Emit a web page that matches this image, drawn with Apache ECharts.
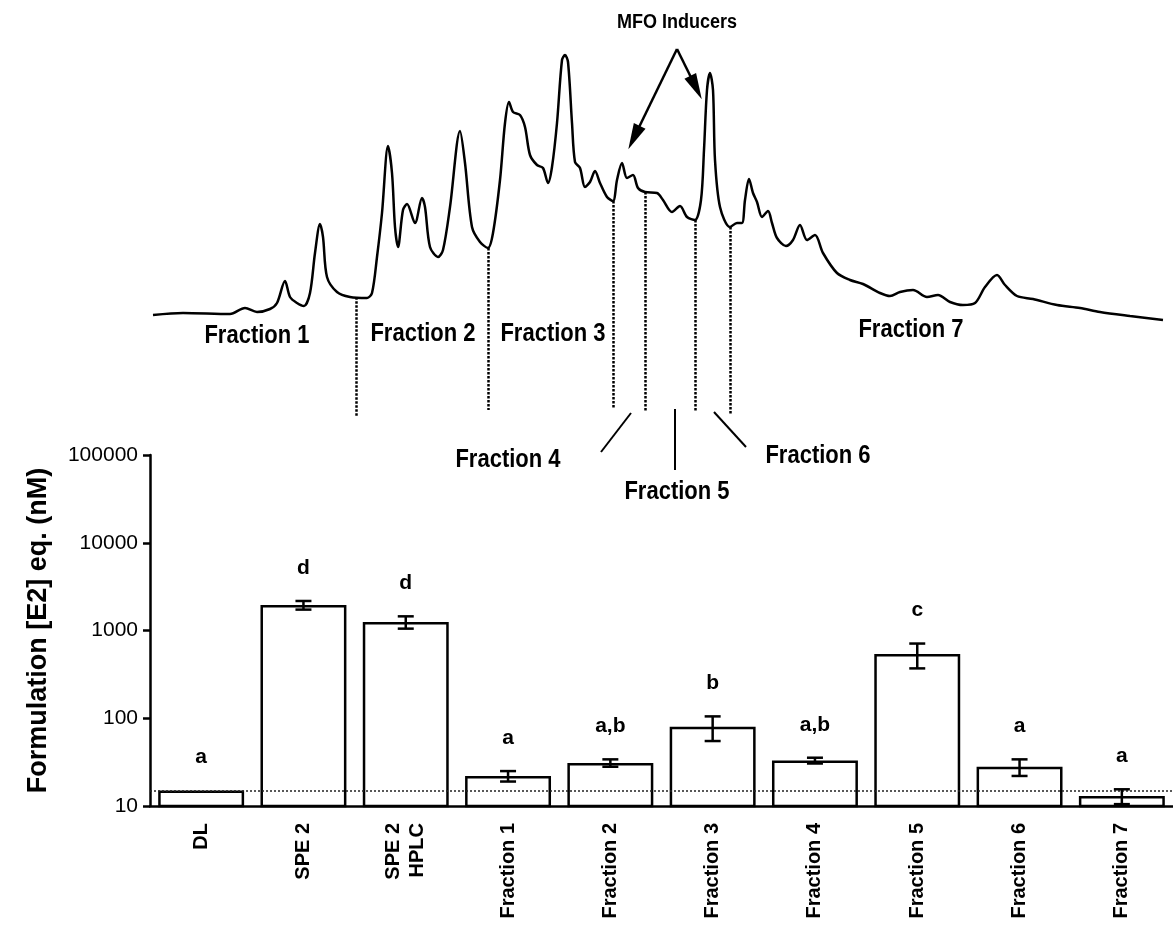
<!DOCTYPE html>
<html>
<head>
<meta charset="utf-8">
<title>Formulation [E2] eq. of HPLC fractions</title>
<script src="https://cdn.jsdelivr.net/npm/echarts@6/dist/echarts.min.js"></script>
<style>
  html, body { margin: 0; padding: 0; background: #fff; }
  #chart { width: 1173px; height: 926px; }
</style>
</head>
<body>
<div id="chart"></div>
<script>
// ---- Bar chart data: estrogenic activity per sample ----
const categories = ['DL', 'SPE 2', 'SPE 2\nHPLC', 'Fraction 1', 'Fraction 2', 'Fraction 3',
                    'Fraction 4', 'Fraction 5', 'Fraction 6', 'Fraction 7'];
const means   = [15, 1950, 1250, 22, 31, 80, 33, 540, 28, 13];
const errors  = [0, 220, 200, 3, 3, 25, 2.5, 170, 6, 2.5];
const letters = ['a', 'd', 'd', 'a', 'a,b', 'b', 'a,b', 'c', 'a', 'a'];
const detectionLimit = 15;

// ---- HPLC chromatogram: retention time (min) and detector signal ----
const chromTime = [0.3, 3.3, 8.0, 9.5, 10.7, 12.0, 12.7, 13.5, 14.0, 14.7, 15.4, 16.0, 16.5, 17.0, 17.3,
  17.7, 18.7, 20.0, 21.7, 22.2, 22.7, 23.2, 23.8, 24.2, 24.5, 24.8, 25.3, 25.7, 26.5, 27.2, 27.5, 28.0,
  28.8, 29.3, 30.0, 31.0, 31.5, 32.2, 33.0, 33.8, 34.3, 35.0, 35.5, 35.9, 36.3, 37.0, 37.5, 38.0, 38.7,
  39.3, 39.8, 40.2, 40.7, 41.2, 41.5, 41.8, 42.2, 42.5, 43.0, 43.5, 44.0, 44.5, 45.0, 45.7, 46.3, 46.7,
  47.2, 47.7, 48.3, 48.8, 49.5, 50.7, 51.3, 52.2, 53.0, 53.7, 54.5, 55.1, 55.4, 55.7, 56.0, 56.3, 56.5,
  57.0, 58.0, 58.7, 59.2, 59.5, 59.9, 60.3, 60.7, 61.2, 61.8, 62.2, 62.7, 63.6, 64.3, 65.0, 65.7, 66.5,
  67.3, 68.7, 70.0, 71.3, 73.0, 74.0, 75.0, 76.3, 77.7, 78.8, 80.0, 81.3, 82.5, 83.5, 84.7, 85.5, 86.7,
  88.3, 90.7, 93.0, 95.0, 98.0, 101.3];
const chromSignal = [2.0, 2.8, 2.4, 4.8, 3.2, 4.4, 6.8, 15.6, 9.2, 6.8, 5.6, 10.8, 26.8, 38.4, 33.2,
  17.2, 11.2, 9.2, 8.8, 10.8, 25.2, 42.8, 69.6, 58.8, 37.2, 29.2, 44.0, 46.4, 38.8, 48.8, 45.2, 29.2,
  25.2, 28.0, 45.2, 75.6, 62.8, 37.2, 31.2, 28.8, 34.8, 56.0, 78.8, 87.2, 83.2, 82.0, 77.2, 66.0, 62.0,
  60.8, 54.8, 61.2, 78.8, 104.0, 106.0, 103.2, 78.8, 63.2, 60.8, 53.2, 55.2, 59.6, 54.8, 49.2, 47.6, 56.0,
  62.8, 56.8, 58.0, 52.8, 51.2, 50.8, 48.0, 43.2, 45.6, 41.2, 40.0, 48.0, 68.0, 92.0, 98.8, 92.0, 64.0,
  45.2, 37.2, 38.8, 38.8, 48.0, 56.4, 50.8, 47.2, 41.2, 43.6, 38.8, 32.8, 29.6, 32.0, 38.0, 32.0, 34.0,
  26.8, 18.8, 16.0, 14.4, 10.8, 9.6, 11.2, 12.0, 9.2, 10.0, 7.2, 6.0, 6.8, 13.2, 18.0, 14.0, 9.6,
  8.4, 6.0, 4.8, 3.2, 1.6, 0.0];

// Fraction cut points (retention time) and how far each cut marker drops below the baseline
const cutTimes = [20.6, 33.8, 46.3, 49.5, 54.5, 58.0];
const cutDepth = [-38.4, -36, -35.2, -36.8, -36.8, -37.6];

const FONT = '"Liberation Sans", Arial, Helvetica, sans-serif';

// Signal on the trace at a given time (linear between samples)
function signalAt(t) {
  for (let i = 1; i < chromTime.length; i++) {
    if (chromTime[i] >= t) {
      const f = (t - chromTime[i - 1]) / (chromTime[i] - chromTime[i - 1]);
      return chromSignal[i - 1] + f * (chromSignal[i] - chromSignal[i - 1]);
    }
  }
  return chromSignal[chromSignal.length - 1];
}

const chromData = chromTime.map((t, i) => [t, chromSignal[i]]);

const cutLines = cutTimes.map((t, i) => [
  { coord: [t, signalAt(t)] },
  { coord: [t, cutDepth[i]] }
]);

const solid = { type: 'solid', width: 2, color: '#000' };
const leaderLines = [
  [{ coord: [48.1, -37.2], lineStyle: solid }, { coord: [45.1, -52.8] }],
  [{ coord: [52.5, -35.6], lineStyle: solid }, { coord: [52.5, -60] }],
  [{ coord: [56.4, -36.8], lineStyle: solid }, { coord: [59.6, -50.8] }]
];

// Plain triangular arrow heads pointing at the two inducer peaks
const arrowHead = { symbol: 'path://M0,0 L7,26 L-7,26 Z', symbolSize: [13, 26], symbolKeepAspect: false };
const arrowStyle = { type: 'solid', width: 2.5, color: '#000' };
const arrowLines = [
  [{ coord: [52.7, 108.4], symbol: 'none', lineStyle: arrowStyle },
   Object.assign({ coord: [48.4, 73.0] }, arrowHead)],
  [{ coord: [52.7, 108.4], symbol: 'none', lineStyle: arrowStyle },
   Object.assign({ coord: [54.6, 93.0] }, arrowHead)]
];

// Text annotations on the chromatogram, in (time, signal) space
const chromLabels = [
  { text: 'Fraction 1', at: [10.7, -6.6] },
  { text: 'Fraction 2', at: [27.3, -5.8] },
  { text: 'Fraction 3', at: [40.3, -5.8] },
  { text: 'Fraction 4', at: [35.8, -56] },
  { text: 'Fraction 5', at: [52.7, -68.8] },
  { text: 'Fraction 6', at: [66.8, -54.4] },
  { text: 'Fraction 7', at: [76.1, -4] }
];
const mfoLabel = { text: 'MFO Inducers', at: [52.7, 119.2] };

const chart = echarts.init(document.getElementById('chart'), null, { renderer: 'canvas' });

const option = {
  backgroundColor: '#ffffff',
  animation: false,
  grid: [
    { left: 150, right: 0, top: 455, bottom: 120, containLabel: false },
    { left: 150, width: 1023, top: 10, height: 510, containLabel: false }
  ],
  xAxis: [
    {
      type: 'category',
      gridIndex: 0,
      data: categories,
      axisLine: { lineStyle: { color: '#000', width: 2.5 } },
      axisTick: { show: false },
      axisLabel: {
        rotate: 90,
        margin: 17,
        interval: 0,
        color: '#000',
        fontFamily: FONT,
        fontWeight: 'bold',
        fontSize: 20,
        lineHeight: 24
      },
      splitLine: { show: false }
    },
    { type: 'value', gridIndex: 1, min: 0, max: 102.3, show: false }
  ],
  yAxis: [
    {
      type: 'log',
      gridIndex: 0,
      logBase: 10,
      min: 10,
      max: 100000,
      name: 'Formulation [E2] eq. (nM)',
      nameLocation: 'middle',
      nameGap: 98,
      nameTextStyle: { color: '#000', fontFamily: FONT, fontWeight: 'bold', fontSize: 27 },
      axisLine: { show: true, lineStyle: { color: '#000', width: 2.5 } },
      axisTick: { show: true, length: 7, lineStyle: { color: '#000', width: 2.5 } },
      minorTick: { show: false },
      axisLabel: {
        color: '#000',
        fontFamily: FONT,
        fontSize: 21,
        margin: 12,
        formatter: v => String(Math.round(v))
      },
      splitLine: { show: false }
    },
    { type: 'value', gridIndex: 1, min: -80, max: 124, show: false }
  ],
  series: [
    {
      name: 'Formulation [E2] eq.',
      type: 'bar',
      xAxisIndex: 0,
      yAxisIndex: 0,
      data: means,
      barWidth: '84%',
      itemStyle: { color: '#ffffff', borderColor: '#000', borderWidth: 2.5 },
      z: 2,
      markLine: {
        silent: true,
        symbol: 'none',
        label: { show: false },
        lineStyle: { type: [2, 2], width: 1.5, color: '#222' },
        data: [{ yAxis: detectionLimit }],
        z: 5
      }
    },
    {
      name: 'SEM',
      type: 'custom',
      xAxisIndex: 0,
      yAxisIndex: 0,
      z: 6,
      data: means.map((m, i) => [i, m, errors[i]]),
      renderItem: function (params, api) {
        const idx = api.value(0);
        const m = api.value(1);
        const e = api.value(2);
        const top = api.coord([idx, m + e]);
        const children = [];
        if (e > 0) {
          const bot = api.coord([idx, m - e]);
          const hw = 8;
          const st = { stroke: '#000', lineWidth: 2.5 };
          children.push(
            { type: 'line', shape: { x1: top[0], y1: top[1], x2: bot[0], y2: bot[1] }, style: st },
            { type: 'line', shape: { x1: top[0] - hw, y1: top[1], x2: top[0] + hw, y2: top[1] }, style: st },
            { type: 'line', shape: { x1: bot[0] - hw, y1: bot[1], x2: bot[0] + hw, y2: bot[1] }, style: st }
          );
        }
        children.push({
          type: 'text',
          x: top[0],
          y: top[1] - 33,
          style: {
            text: letters[params.dataIndex],
            fill: '#000',
            font: 'bold 21px ' + FONT,
            textAlign: 'center',
            textVerticalAlign: 'middle'
          }
        });
        return { type: 'group', children: children };
      }
    },
    {
      name: 'Chromatogram',
      type: 'line',
      xAxisIndex: 1,
      yAxisIndex: 1,
      data: chromData,
      showSymbol: false,
      smooth: 0.3,
      lineStyle: { color: '#000', width: 2.5 },
      z: 3,
      markLine: {
        silent: true,
        symbol: 'none',
        animation: false,
        label: { show: false },
        lineStyle: { type: [2.5, 1.5], width: 2.5, color: '#000' },
        data: cutLines.concat(leaderLines).concat(arrowLines)
      }
    }
  ]
};

chart.setOption(option);

// Text annotations placed through the chromatogram's own coordinate system
function textEl(item, size, sx) {
  const p = chart.convertToPixel({ gridIndex: 1 }, item.at);
  return {
    type: 'text',
    x: p[0],
    y: p[1],
    scaleX: sx,
    silent: true,
    z: 10,
    style: {
      text: item.text,
      fill: '#000',
      font: 'bold ' + size + 'px ' + FONT,
      textAlign: 'center',
      textVerticalAlign: 'middle'
    }
  };
}

chart.setOption({
  graphic: chromLabels.map(l => textEl(l, 25, 0.88)).concat([textEl(mfoLabel, 20, 0.9)])
});
</script>
</body>
</html>
